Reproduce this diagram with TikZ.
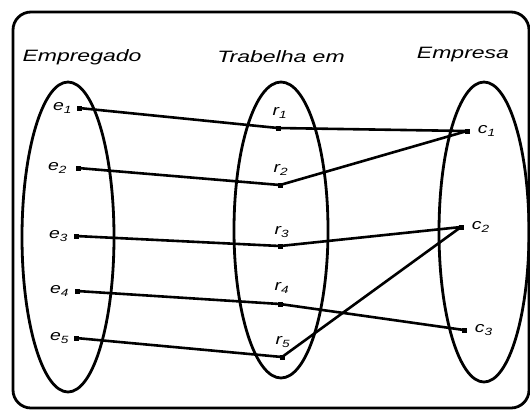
\documentclass[tikz,border=0pt]{standalone}
\usepackage{fontspec}
\setmainfont{Liberation Sans}
\usetikzlibrary{positioning}
\newcommand{\lab}[2]{#1\textsubscript{#2}}
\begin{document}
\begin{tikzpicture}[x=1bp,y=-1bp,
  frame/.style={draw,line width=2.8bp,rounded corners=18bp},
  setell/.style={draw,line width=2.8bp},
  title/.style={font=\fontsize{16.5}{18}\selectfont\itshape,xscale=1.4,inner sep=0pt},
  lbl/.style={font=\fontsize{15}{17}\selectfont\itshape,xscale=1.3,inner sep=0pt},
  dot/.style={fill=black,minimum size=5bp,inner sep=0pt},
  link/.style={line width=2.6bp,line join=round}]
\useasboundingbox (0,0) rectangle (530,410);
\draw[frame] (13,12) rectangle (529,408);
% titles
\node[title] (tE) at (82,57) {Empregado};
\node[title] (tT) at (281,57) {Trabelha em};
\node[title] (tC) at (463,55) {Empresa};
% sets
\draw[setell] (68,237) ellipse [x radius=46, y radius=155];
\draw[setell] (281,230) ellipse [x radius=47, y radius=148];
\draw[setell] (484,232) ellipse [x radius=45, y radius=150];
% employee dots and labels
\node[dot] (e1) at (79,108) {};
\node[dot] (e2) at (78,168) {};
\node[dot] (e3) at (76,236) {};
\node[dot] (e4) at (77,291) {};
\node[dot] (e5) at (76,338) {};
\node[lbl,left=4bp of e1] (le1) {\lab{e}{1}};
\node[lbl,left=8bp of e2] (le2) {\lab{e}{2}};
\node[lbl,left=5bp of e3] (le3) {\lab{e}{3}};
\node[lbl,left=5bp of e4] (le4) {\lab{e}{4}};
\node[lbl,left=4bp of e5] (le5) {\lab{e}{5}};
% relationship dots and labels
\node[dot] (r1) at (278,128) {};
\node[dot] (r2) at (280,185) {};
\node[dot] (r3) at (280,246) {};
\node[dot] (r4) at (280,304) {};
\node[dot] (r5) at (282,357) {};
\node[lbl] (lr1) at (280,113) {\lab{r}{1}};
\node[lbl] (lr2) at (281,170) {\lab{r}{2}};
\node[lbl] (lr3) at (282,232) {\lab{r}{3}};
\node[lbl] (lr4) at (282,288) {\lab{r}{4}};
\node[lbl] (lr5) at (283,342) {\lab{r}{5}};
% company dots and labels
\node[dot] (c1) at (467,131) {};
\node[dot] (c2) at (461,227) {};
\node[dot] (c3) at (464,330) {};
\node[lbl,right=8bp of c1] (lc1) {\lab{c}{1}};
\node[lbl,right=8bp of c2] (lc2) {\lab{c}{2}};
\node[lbl,right=8bp of c3] (lc3) {\lab{c}{3}};
% connectors
\draw[link] (e1.center) -- (r1.center) -- (c1.center);
\draw[link] (e2.center) -- (r2.center) -- (c1.center);
\draw[link] (e3.center) -- (r3.center) -- (c2.center);
\draw[link] (e4.center) -- (r4.center) -- (c3.center);
\draw[link] (e5.center) -- (r5.center) -- (c2.center);
\end{tikzpicture}
\end{document}
